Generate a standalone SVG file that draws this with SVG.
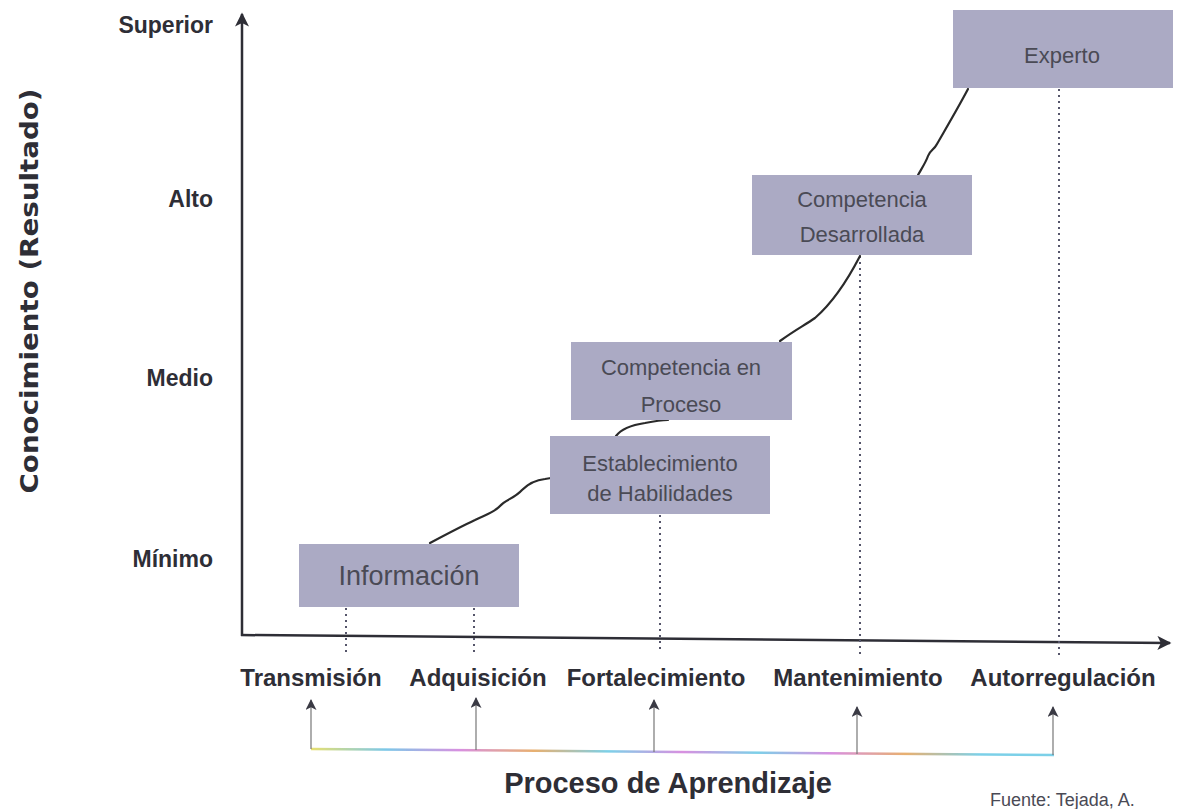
<svg xmlns="http://www.w3.org/2000/svg" width="1179" height="809" viewBox="0 0 1179 809">
<defs>
<style>
.box{fill:#abaac4;}
.bt{font-family:"Liberation Sans",Arial,sans-serif;fill:#4a4a55;text-anchor:middle;font-size:22px;}
.bt-big{font-size:27px;}
.lvl{font-family:"Liberation Sans",Arial,sans-serif;font-weight:bold;fill:#2e2e36;font-size:23px;text-anchor:end;}
.xl{font-family:"Liberation Sans",Arial,sans-serif;font-weight:bold;fill:#2e2e36;font-size:24px;text-anchor:middle;}
.dot{stroke:#55556a;stroke-width:2;stroke-dasharray:2 4;fill:none;}
.curve{stroke:#2a2a2a;stroke-width:2.2;fill:none;stroke-linecap:round;}
.axis{stroke:#2e2e36;stroke-width:2.5;fill:none;}
.up{stroke:#777;stroke-width:1.2;fill:none;}
</style>
<marker id="big" viewBox="0 0 10 10" refX="9" refY="5" markerWidth="16" markerHeight="14" orient="auto" markerUnits="userSpaceOnUse">
<path d="M0,0 L10,5 L0,10 L2.5,5 Z" fill="#2e2e36"/>
</marker>
<marker id="small" viewBox="0 0 10 10" refX="9" refY="5" markerWidth="16" markerHeight="11" orient="auto" markerUnits="userSpaceOnUse">
<path d="M0,0 L10,5 L0,10 L2.5,5 Z" fill="#3a3a44"/>
</marker>
<linearGradient id="rain" x1="0" y1="0" x2="1" y2="0">
<stop offset="0" stop-color="#e8e070"/>
<stop offset="0.1" stop-color="#7cc8e8"/>
<stop offset="0.2" stop-color="#d890e0"/>
<stop offset="0.3" stop-color="#e8b070"/>
<stop offset="0.4" stop-color="#7cd0e8"/>
<stop offset="0.5" stop-color="#d890e0"/>
<stop offset="0.6" stop-color="#7cd0e8"/>
<stop offset="0.7" stop-color="#d890e0"/>
<stop offset="0.8" stop-color="#e8b070"/>
<stop offset="0.9" stop-color="#7cd0e8"/>
<stop offset="1" stop-color="#7cd0e8"/>
</linearGradient>
</defs>
<rect width="1179" height="809" fill="#ffffff"/>

<g id="axes">
<line class="axis" x1="242" y1="636" x2="242" y2="14" marker-end="url(#big)"/>
<line class="axis" x1="241" y1="635" x2="1170" y2="643" marker-end="url(#big)"/>
<text class="lvl" x="213" y="33">Superior</text>
<text class="lvl" x="213" y="207">Alto</text>
<text class="lvl" x="213" y="386">Medio</text>
<text class="lvl" x="213" y="567">Mínimo</text>
<text font-family="'DejaVu Sans',Verdana,sans-serif" font-weight="bold" font-size="24" fill="#2e2e36" text-anchor="middle" transform="translate(38,291) rotate(-90)" textLength="405" lengthAdjust="spacingAndGlyphs">Conocimiento (Resultado)</text>
</g>

<g id="connectors">
<path class="dot" d="M346,608 V656"/>
<path class="dot" d="M474,608 V656"/>
<path class="dot" d="M660,515 V652"/>
<path class="dot" d="M860,256 V656"/>
<path class="dot" d="M1059,89 V656"/>
<path class="curve" d="M430,543 C445,535 460,527 475,520 C485,515 495,512 500,506 C505,500 515,498 522,490 C528,484 535,480 545,479 L551,478"/>
<path class="curve" d="M616,436 C622,428 632,425 645,423 C655,421 662,420 668,420"/>
<path class="curve" d="M780,341 C795,330 805,325 815,318 C830,305 845,285 860,256"/>
<path class="curve" d="M918,175 C922,168 926,162 928,156 C930,150 934,150 937,144 C945,130 958,108 968,89"/>
<path d="M311,749 L1054,755" stroke="url(#rain)" stroke-width="2.5" fill="none"/>
<path class="up" d="M311,749 V700" marker-end="url(#small)"/>
<path class="up" d="M476,750 V698" marker-end="url(#small)"/>
<path class="up" d="M654,752 V700" marker-end="url(#small)"/>
<path class="up" d="M857,754 V707" marker-end="url(#small)"/>
<path class="up" d="M1053,755 V707" marker-end="url(#small)"/>
</g>

<g id="n-informacion">
<rect class="box" x="299" y="544" width="220" height="63"/>
<text class="bt bt-big" x="409" y="585">Información</text>
</g>
<g id="n-establecimiento">
<rect class="box" x="550" y="436" width="220" height="78"/>
<text class="bt" x="660" y="471">Establecimiento</text>
<text class="bt" x="660" y="501">de Habilidades</text>
</g>
<g id="n-comp-proceso">
<rect class="box" x="571" y="342" width="221" height="78"/>
<text class="bt" x="681" y="375">Competencia en</text>
<text class="bt" x="681" y="412">Proceso</text>
</g>
<g id="n-comp-desarrollada">
<rect class="box" x="752" y="175" width="220" height="80"/>
<text class="bt" x="862" y="207">Competencia</text>
<text class="bt" x="862" y="242">Desarrollada</text>
</g>
<g id="n-experto">
<rect class="box" x="953" y="10" width="220" height="78"/>
<text class="bt" x="1062" y="63">Experto</text>
</g>

<g id="x-labels">
<text class="xl" x="311" y="686">Transmisión</text>
<text class="xl" x="478" y="686">Adquisición</text>
<text class="xl" x="656" y="686">Fortalecimiento</text>
<text class="xl" x="858" y="686">Mantenimiento</text>
<text class="xl" x="1063" y="686">Autorregulación</text>
<text font-family="'Liberation Sans',Arial,sans-serif" font-weight="bold" font-size="29" fill="#2e2e36" text-anchor="middle" x="668" y="793">Proceso de Aprendizaje</text>
<text font-family="'Liberation Sans',Arial,sans-serif" font-size="18" fill="#4a4a55" x="990" y="806">Fuente: Tejada, A.</text>
</g>
</svg>
